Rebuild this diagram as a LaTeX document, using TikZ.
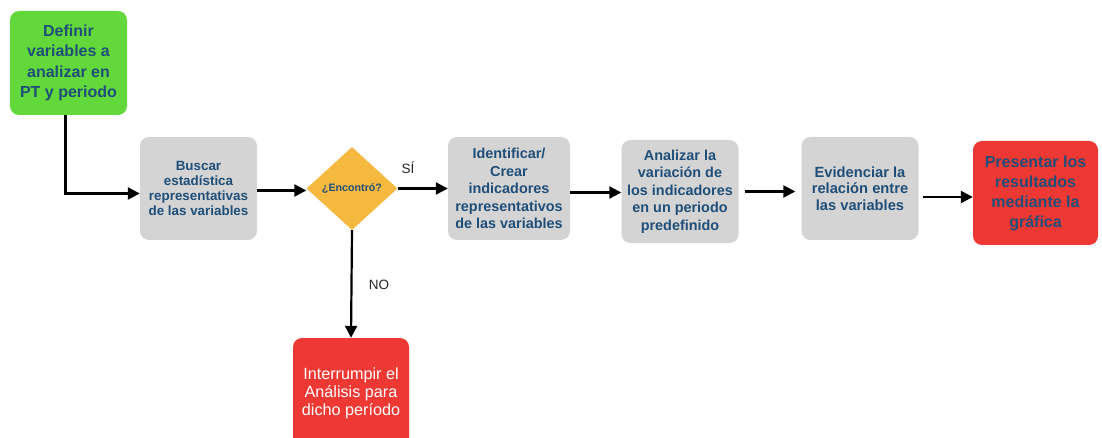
\documentclass[tikz,border=0pt]{standalone}
\usepackage{fontspec}
\setmainfont{Liberation Sans}
\usetikzlibrary{arrows.meta,shapes.geometric}
\definecolor{tblue}{HTML}{1F4E79}
\definecolor{gbox}{HTML}{62D83A}
\definecolor{grbox}{HTML}{D4D4D4}
\definecolor{obox}{HTML}{F6B940}
\definecolor{rbox}{HTML}{EE3833}
\tikzset{
  boxbase/.style={rounded corners=9pt, align=center, inner sep=0pt},
  flow/.style={line width=2.2pt, -{Triangle[length=12pt,width=12pt]}},
  lbl/.style={font=\fontsize{13.5}{15}\selectfont, text=black!85}
}
\begin{document}
\begin{tikzpicture}[x=1pt,y=-1pt]
\useasboundingbox (0,0) rectangle (1102,438);
\node[boxbase, fill=gbox, minimum width=117pt, minimum height=104pt, text=tblue,
  font=\fontsize{16}{20.5}\selectfont\bfseries] (green) at (68.5,63) {Definir\\variables a\\analizar en\\PT y periodo};
\node[boxbase, fill=grbox, minimum width=117pt, minimum height=103pt, text=tblue,
  font=\fontsize{13.4}{15}\selectfont\bfseries] (buscar) at (198.5,188.5) {Buscar\\estadística\\representativas\\de las variables};
\node[diamond, fill=obox, minimum width=91pt, minimum height=83pt, inner sep=0pt, text=tblue,
  font=\fontsize{10.7}{12}\selectfont\bfseries] (dec) at (352,188.5) {¿Encontró?};
\node[boxbase, fill=grbox, minimum width=122pt, minimum height=103pt, text=tblue,
  font=\fontsize{14.4}{17.5}\selectfont\bfseries] (ident) at (509,188.5) {Identificar/\\Crear\\indicadores\\representativos\\de las variables};
\node[boxbase, fill=grbox, minimum width=117pt, minimum height=103pt, text=tblue,
  font=\fontsize{14.4}{17.5}\selectfont\bfseries] (anal) at (680,191.5) {Analizar la\\variación de\\los indicadores\\en un periodo\\predefinido};
\node[boxbase, fill=grbox, minimum width=117pt, minimum height=103pt, text=tblue,
  font=\fontsize{14.7}{16.5}\selectfont\bfseries] (evid) at (860,188.5) {Evidenciar la\\relación entre\\las variables};
\node[boxbase, fill=rbox, minimum width=125pt, minimum height=104pt, text=tblue,
  font=\fontsize{16}{20}\selectfont\bfseries] (pres) at (1035.5,193) {Presentar los\\resultados\\mediante la\\gráfica};
\node[boxbase, fill=rbox, minimum width=116pt, minimum height=110pt, text=white,
  font=\fontsize{16.2}{18}\selectfont] (interr) at (351,393) {Interrumpir el\\Análisis para\\dicho período};
\draw[flow] ([xshift=-3pt]green.south) |- ([yshift=-5pt]buscar.west);
\draw[flow] ([yshift=-2pt]buscar.east) -- ([yshift=-2pt]dec.west);
\draw[flow] (dec.east) -- (ident.west);
\draw[flow] ([yshift=-4pt]ident.east) -- ([yshift=-1pt]anal.west);
\draw[flow] ([xshift=6pt]anal.east) -- ([xshift=-6pt]evid.west |- anal.east);
\draw[flow] ([xshift=4pt,yshift=-8.5pt]evid.east) -- ([yshift=-4pt]pres.west);
\draw[flow] (dec.south) -- (interr.north);
\node[lbl] (si) at (408,168) {SÍ};
\node[lbl] (no) at (379,285) {NO};
\end{tikzpicture}
\end{document}
